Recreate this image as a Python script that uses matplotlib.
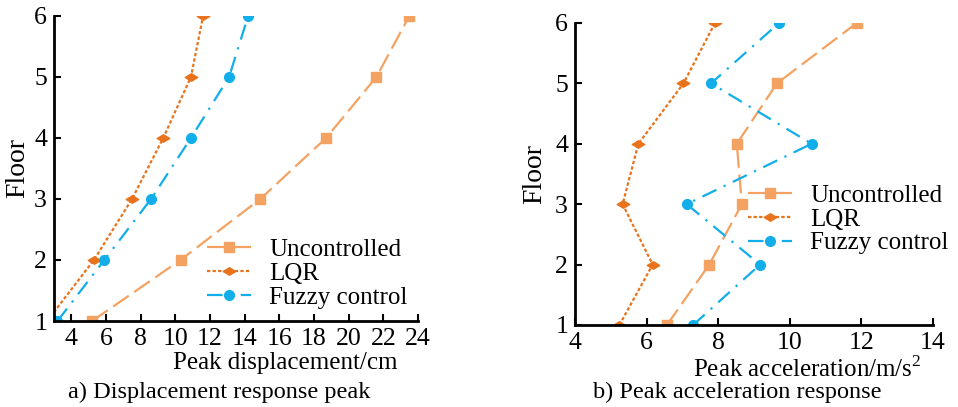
import numpy as np
import matplotlib
matplotlib.use("Agg")
import matplotlib.pyplot as plt
from matplotlib.path import Path

plt.rcParams['font.family'] = ['Liberation Serif', 'DejaVu Serif']
plt.rcParams['mathtext.fontset'] = 'custom'
plt.rcParams['mathtext.rm'] = 'Liberation Serif'

floors = [1, 2, 3, 4, 5, 6]

# a) peak displacement (cm)
disp_unctrl = [5.2, 10.3, 14.9, 18.7, 21.6, 23.5]
disp_lqr = [2.6, 5.3, 7.5, 9.3, 10.9, 11.6]
disp_fuzzy = [3.2, 5.9, 8.6, 10.9, 13.1, 14.2]

# b) peak acceleration (m/s2)
acc_unctrl = [6.57, 7.75, 8.66, 8.52, 9.64, 11.87]
acc_lqr = [5.24, 6.17, 5.33, 5.77, 7.03, 7.91]
acc_fuzzy = [7.30, 9.17, 7.12, 10.61, 7.80, 9.70]

c_unc = '#F4A262'
c_lqr = '#E8731C'
c_fuz = '#12AEEA'

# wide, flat diamond like the original
wide_diamond = Path([(-1, 0), (0, 0.6), (1, 0), (0, -0.6), (-1, 0)],
                    [Path.MOVETO, Path.LINETO, Path.LINETO, Path.LINETO, Path.CLOSEPOLY])

fig = plt.figure(figsize=(9.58, 4.07), dpi=100)
ax1 = fig.add_axes([0.0564, 0.2113, 0.3799, 0.7494])
ax2 = fig.add_axes([0.6002, 0.2015, 0.3737, 0.7420])

def style(ax):
    for s in ['top', 'right']:
        ax.spines[s].set_visible(False)
    for s in ['left', 'bottom']:
        ax.spines[s].set_linewidth(2)
    ax.tick_params(direction='in', length=5, width=1.5, labelsize=18.5, pad=5)
    ax.set_yticks(floors)
    ax.set_ylim(1, 6)

def draw(ax, unc, lqr, fuz):
    lw = 1.6
    ax.plot(unc, floors, color=c_unc, lw=lw, marker='s', ms=6.5,
            dashes=(8.5, 3), label='Uncontrolled')
    ax.plot(lqr, floors, color=c_lqr, lw=lw, marker=wide_diamond, ms=9,
            dashes=(1.5, 1.0), label='LQR')
    ax.plot(fuz, floors, color=c_fuz, lw=lw, marker='o', ms=7,
            dashes=(7, 3.6, 1, 3.6), label='Fuzzy control')

leg_kw = dict(frameon=False, fontsize=18, handlelength=1.75, labelspacing=0.05,
              borderpad=0.0, handletextpad=0.75, borderaxespad=0.0)

draw(ax1, disp_unctrl, disp_lqr, disp_fuzzy)
style(ax1)
ax1.set_xlim(3, 24)
ax1.set_xticks(np.arange(4, 25, 2))
ax1.set_ylabel('Floor', fontsize=20, labelpad=3)
ax1.set_xlabel('Peak displacement/cm', fontsize=18)
ax1.xaxis.set_label_coords(0.636, -0.138, transform=ax1.transAxes)
ax1.xaxis.label.set_va('center')
ax1.legend(loc='center left', bbox_to_anchor=(0.42, 0.155), **leg_kw)
fig.text(0.229, 0.037, 'a) Displacement response peak', fontsize=17.5,
         ha='center', va='center')

draw(ax2, acc_unctrl, acc_lqr, acc_fuzzy)
style(ax2)
ax2.set_xlim(4, 14)
ax2.set_xticks(np.arange(4, 15, 2))
ax2.set_ylabel('Floor', fontsize=20, labelpad=6)
ax2.set_xlabel('Peak acceleration/m/s$^2$', fontsize=18)
ax2.xaxis.set_label_coords(0.649, -0.145, transform=ax2.transAxes)
ax2.xaxis.label.set_va('center')
ax2.legend(loc='center left', bbox_to_anchor=(0.483, 0.35), **leg_kw)
fig.text(0.770, 0.037, 'b) Peak acceleration response', fontsize=17.5,
         ha='center', va='center')

fig.savefig('out.png', dpi=100)
